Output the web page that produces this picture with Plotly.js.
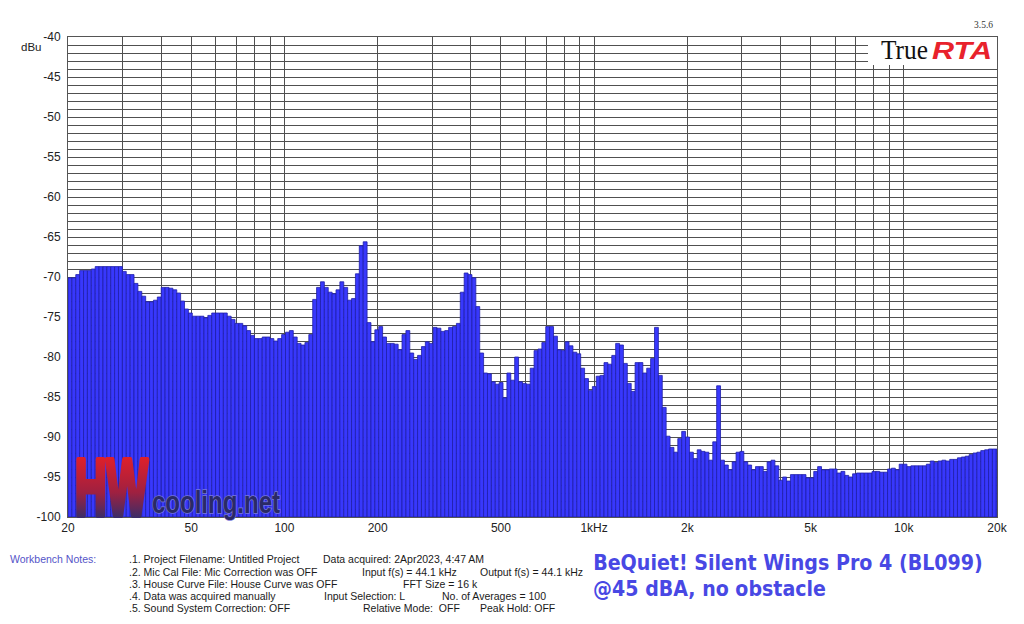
<!DOCTYPE html>
<html>
<head>
<meta charset="utf-8">
<script src="https://cdn.plot.ly/plotly-3.0.1.min.js"></script>
<style>
html,body{margin:0;padding:0;background:#fff;}
#chart{width:1024px;height:624px;}
</style>
</head>
<body>
<div id="chart"></div>
<script>
// 1/24-octave RTA bands starting at 20 Hz
const firstBandHz = 20;
const bandsPerOctave = 24;

// Level of each band, dBu (240 bands, 20 Hz .. 20 kHz)
const levelsDbu = [
  -70.1,-70.1,-69.7,-69.2,-69.2,-69.2,-69.0,-68.7,-68.7,-68.7,
  -68.7,-68.7,-68.7,-68.7,-69.3,-69.7,-69.7,-70.8,-71.8,-72.4,
  -73.1,-73.1,-72.9,-72.5,-71.3,-71.3,-71.4,-71.6,-72.0,-73.0,
  -74.0,-74.5,-74.9,-74.9,-74.9,-75.1,-74.8,-74.5,-74.5,-74.5,
  -74.5,-74.9,-75.3,-75.8,-75.8,-76.1,-76.7,-77.3,-77.7,-77.7,
  -77.5,-77.5,-77.7,-78.0,-77.7,-77.2,-76.9,-76.7,-77.5,-78.3,
  -78.5,-78.2,-77.2,-72.8,-71.3,-70.6,-71.3,-71.9,-72.1,-71.6,
  -70.6,-71.3,-72.9,-72.7,-69.6,-66.1,-65.6,-75.7,-78.1,-76.6,
  -76.2,-77.5,-78.3,-78.3,-78.4,-79.1,-77.2,-76.7,-79.5,-80.3,
  -79.8,-78.7,-78.1,-78.3,-76.3,-76.4,-76.8,-76.7,-76.3,-76.2,
  -75.8,-71.9,-69.5,-69.7,-70.1,-73.7,-79.5,-82.0,-82.1,-83.1,
  -83.4,-83.2,-85.1,-82.0,-82.9,-80.0,-83.1,-83.3,-83.4,-81.4,
  -79.2,-79.0,-78.2,-76.2,-76.2,-77.4,-79.1,-79.2,-78.1,-78.6,
  -79.4,-79.6,-81.4,-82.7,-84.2,-83.7,-82.4,-82.3,-80.7,-80.9,
  -79.8,-78.3,-78.5,-80.8,-83.3,-84.3,-80.7,-80.7,-82.0,-81.4,
  -80.2,-76.3,-82.3,-86.3,-89.9,-91.3,-91.9,-90.2,-89.3,-90.0,
  -91.9,-92.7,-91.6,-91.8,-91.9,-92.9,-90.6,-83.6,-92.9,-93.5,
  -94.1,-93.1,-91.9,-91.8,-93.1,-93.5,-94.1,-93.7,-93.7,-94.3,
  -93.1,-92.9,-93.6,-95.4,-95.0,-95.5,-94.7,-94.7,-94.7,-94.7,
  -95.1,-95.1,-94.3,-93.7,-94.1,-94.1,-94.0,-94.0,-94.5,-94.3,
  -94.8,-95.0,-94.6,-94.5,-94.5,-94.5,-94.5,-94.3,-94.3,-94.4,
  -94.4,-94.0,-93.9,-94.1,-93.4,-93.4,-93.7,-93.6,-93.6,-93.6,
  -93.6,-93.4,-93.0,-93.2,-93.0,-92.9,-93.0,-92.8,-92.8,-92.6,
  -92.5,-92.4,-92.2,-92.0,-91.9,-91.7,-91.6,-91.5,-91.5,-91.5
];

// Frequency grid lines and labels
const gridFreqsHz = [20,30,40,50,60,70,80,90,100,200,300,400,500,600,700,800,900,
  1000,2000,3000,4000,5000,6000,7000,8000,9000,10000,20000];
const labelFreqsHz = [20,50,100,200,500,1000,2000,5000,10000,20000];
const labelTexts = ['20','50','100','200','500','1kHz','2k','5k','10k','20k'];

// Level axis
const levelTicks = [-100,-95,-90,-85,-80,-75,-70,-65,-60,-55,-50,-45,-40];
const levelTickText = ['-100','-95','-90','-85','-80','-75','-70','-65','-60','-55','-50','-45','-40'];
const levelFloor = -100;

// Texts
const notesHeading = 'Workbench Notes:';
const notesCol1 = ['.1. Project Filename: Untitled Project', '.2. Mic Cal File: Mic Correction was OFF',
  '.3. House Curve File: House Curve was OFF', '.4. Data was acquired manually', '.5. Sound System Correction: OFF'];
const notesExtra = [
  {t:'Data acquired: 2Apr2023, 4:47 AM', x:321, row:0},
  {t:'Input f(s) = 44.1 kHz', x:360, row:1},
  {t:'Output f(s) = 44.1 kHz', x:478, row:1},
  {t:'FFT Size = 16 k', x:401, row:2},
  {t:'Input Selection: L', x:322, row:3},
  {t:'No. of Averages = 100', x:440, row:3},
  {t:'Relative Mode:  OFF', x:361, row:4},
  {t:'Peak Hold: OFF', x:478, row:4}
];
const chartTitle1 = 'BeQuiet! Silent Wings Pro 4 (BL099)';
const chartTitle2 = '@45 dBA, no obstacle';

// ---- build ----
const bandWidthLog = Math.log10(2) / bandsPerOctave;
const x0 = Math.log10(firstBandHz);
const bandX = levelsDbu.map((_, i) => x0 + (i + 0.5) * bandWidthLog);
const tickVals = gridFreqsHz.map(f => Math.log10(f));
const tickText = gridFreqsHz.map(f => { const k = labelFreqsHz.indexOf(f); return k >= 0 ? labelTexts[k] : ''; });

const L = 68, R = 997, T = 37, B = 517;
const px = v => (v - L) / (R - L);
const py = v => (B - v) / (B - T);

const annotations = [];
const noteFont = {family:'Liberation Sans, Arial, sans-serif', size:10.5, color:'#1a1a1a'};
const rowY = [559, 572, 584, 596, 608];
annotations.push({text:notesHeading, xref:'paper', yref:'paper', x:px(8), y:py(rowY[0]), xanchor:'left', yanchor:'middle', showarrow:false,
  font:{family:'Liberation Sans, Arial, sans-serif', size:10.5, color:'#5454c8'}});
notesCol1.forEach((t, r) => annotations.push({text:t, xref:'paper', yref:'paper', x:px(127), y:py(rowY[r]), xanchor:'left', yanchor:'middle', showarrow:false, font:noteFont}));
notesExtra.forEach(n => annotations.push({text:n.t, xref:'paper', yref:'paper', x:px(n.x), y:py(rowY[n.row]), xanchor:'left', yanchor:'middle', showarrow:false, font:noteFont}));

const titleFont = {family:'DejaVu Sans Condensed, DejaVu Sans, sans-serif', size:21, color:'#4848e4'};
annotations.push({text:'<b>'+chartTitle1+'</b>', xref:'paper', yref:'paper', x:px(592), y:py(563), xanchor:'left', yanchor:'middle', showarrow:false, font:titleFont});
annotations.push({text:'<b>'+chartTitle2+'</b>', xref:'paper', yref:'paper', x:px(592), y:py(589), xanchor:'left', yanchor:'middle', showarrow:false, font:titleFont});

// axis unit
annotations.push({text:'dBu', xref:'paper', yref:'paper', x:px(31), y:py(47), xanchor:'center', yanchor:'middle', showarrow:false,
  font:{family:'Liberation Sans, Arial, sans-serif', size:11.5, color:'#222'}});

// TrueRTA logo
annotations.push({text:'3.5.6', xref:'paper', yref:'paper', x:px(995), y:py(25), xanchor:'right', yanchor:'middle', showarrow:false,
  font:{family:'Liberation Serif, Times New Roman, serif', size:9.5, color:'#333'}});
annotations.push({text:'True', xref:'paper', yref:'paper', x:px(881), y:py(50), xanchor:'left', yanchor:'middle', showarrow:false,
  font:{family:'Liberation Serif, Times New Roman, serif', size:27, color:'#111'}});
annotations.push({text:'<b><i>RTA</i></b>', xref:'paper', yref:'paper', x:px(931), y:py(50), xanchor:'left', yanchor:'middle', showarrow:false,
  font:{family:'Liberation Sans, Arial, sans-serif', size:24, color:'#e8222c'}});

// HWcooling watermark
annotations.push({text:'<b>HW</b>', xref:'paper', yref:'paper', x:px(75), y:py(487), xanchor:'left', yanchor:'middle', showarrow:false,
  font:{family:'Liberation Sans, sans-serif', size:80, color:'#c0243a'}});
annotations.push({text:'<b>cooling.net</b>', xref:'paper', yref:'paper', x:px(152), y:py(502), xanchor:'left', yanchor:'middle', showarrow:false,
  font:{family:'Liberation Sans, sans-serif', size:31, color:'#2a2a66'}});

const shapes = [
  {type:'rect', xref:'paper', yref:'paper', x0:px(868), x1:px(997), y0:py(65), y1:py(37), fillcolor:'#ffffff', line:{width:0}, layer:'above'}
];

const trace = {
  type:'bar',
  x: bandX,
  y: levelsDbu.map(v => v - levelFloor),
  base: levelFloor,
  width: bandWidthLog,
  marker:{color:'#3838fc', line:{color:'#1e1ea8', width:0.8}},
  hoverinfo:'skip'
};

const layout = {
  width:1024, height:624,
  margin:{l:L, r:1024-R, t:T, b:624-B, pad:0},
  paper_bgcolor:'#ffffff', plot_bgcolor:'#ffffff',
  showlegend:false,
  bargap:0,
  xaxis:{
    range:[Math.log10(20), Math.log10(20000)],
    tickmode:'array', tickvals:tickVals, ticktext:tickText,
    showgrid:true, gridcolor:'#505050', gridwidth:1,
    showline:true, linecolor:'#555', linewidth:1, mirror:true,
    ticks:'', zeroline:false,
    tickfont:{family:'Liberation Sans, Arial, sans-serif', size:12, color:'#222'}
  },
  yaxis:{
    range:[-100, -40],
    tickmode:'array', tickvals:levelTicks, ticktext:levelTickText,
    showgrid:true, gridcolor:'#505050', gridwidth:1,
    minor:{dtick:1, tick0:0, showgrid:true, gridcolor:'#505050', gridwidth:1, ticks:''},
    showline:true, linecolor:'#555', linewidth:1, mirror:true,
    ticks:'', zeroline:false, ticklabelstandoff:4,
    tickfont:{family:'Liberation Sans, Arial, sans-serif', size:12, color:'#222'}
  },
  annotations: annotations,
  shapes: shapes
};

// horizontally fit selected texts to the width they have in the reference
const fitTexts = [
  {t:'HW', left:75, width:73},
  {t:'cooling.net', left:152, width:128},
  {t:'True', left:881, width:47},
  {t:'RTA', left:932, width:60},
  {t:chartTitle1, left:593, width:390},
  {t:chartTitle2, left:593, width:233}
];

Plotly.newPlot('chart', [trace], layout, {staticPlot:true, displayModeBar:false}).then(gd => {
  const svg = gd.querySelector('.main-svg');
  const svgRect = svg.getBoundingClientRect();
  const NS = 'http://www.w3.org/2000/svg';
  let defs = svg.querySelector('defs');
  if (!defs) { defs = document.createElementNS(NS, 'defs'); svg.insertBefore(defs, svg.firstChild); }
  const grad = document.createElementNS(NS, 'linearGradient');
  grad.setAttribute('id', 'hwgrad');
  grad.setAttribute('x1', '0'); grad.setAttribute('y1', '0');
  grad.setAttribute('x2', '0'); grad.setAttribute('y2', '1');
  [['0.15', '#e0202a'], ['0.55', '#a02040'], ['0.9', '#243070']].forEach(([o, c]) => {
    const s = document.createElementNS(NS, 'stop');
    s.setAttribute('offset', o); s.setAttribute('stop-color', c);
    grad.appendChild(s);
  });
  defs.appendChild(grad);

  const texts = Array.from(gd.querySelectorAll('.annotation-text'));
  fitTexts.forEach(f => {
    const el = texts.find(e => e.textContent === f.t);
    if (!el) return;
    if (f.t === 'HW') {
      el.style.fill = 'url(#hwgrad)';
      el.style.stroke = 'url(#hwgrad)';
      el.style.strokeWidth = '6px';
      el.style.strokeLinejoin = 'round';
    }
    if (f.t === 'cooling.net') {
      el.style.stroke = '#7a7ad8'; el.style.strokeWidth = '1.5px'; el.style.paintOrder = 'stroke';
    }
    const r = el.getBoundingClientRect();
    const bb = el.getBBox();
    if (!r.width) return;
    const s = f.width / r.width;
    const dx = (f.left + svgRect.left) - r.left;
    el.setAttribute('transform', `translate(${dx + bb.x},0) scale(${s},1) translate(${-bb.x},0)`);
  });
});
</script>
</body>
</html>
